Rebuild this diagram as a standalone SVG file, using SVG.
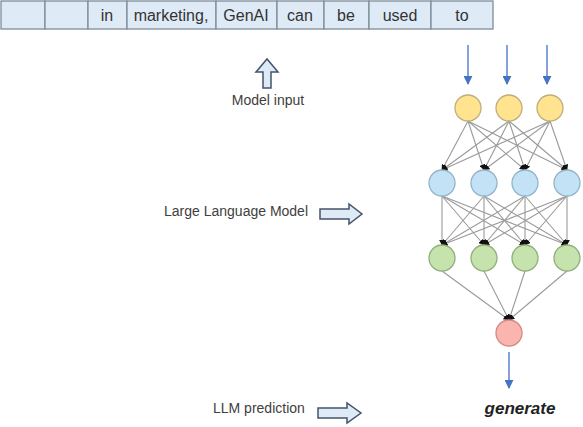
<svg xmlns="http://www.w3.org/2000/svg" width="583" height="427" viewBox="0 0 583 427">
<defs>
<marker id="blk" viewBox="0 0 10 10" refX="9" refY="5" markerWidth="6" markerHeight="6" orient="auto" markerUnits="userSpaceOnUse">
<path d="M0,0 L10,5 L0,10 z" fill="#111"/>
</marker>
<marker id="blu" viewBox="0 0 10 10" refX="9" refY="5" markerWidth="9" markerHeight="9" orient="auto" markerUnits="userSpaceOnUse">
<path d="M0,0 L10,5 L0,10 z" fill="#4472c4"/>
</marker>
<style>
.cell{fill:#deebf7;stroke:#7f8c99;stroke-width:1.3}
.tok{font-family:"Liberation Sans",Arial,sans-serif;font-size:16px;fill:#333;text-anchor:middle}
.lbl{font-family:"Liberation Sans",Arial,sans-serif;font-size:14px;fill:#404040}
.blk{fill:#deebf7;stroke:#44546a;stroke-width:1.5;stroke-linejoin:miter}
.c{stroke:#9a9a9a;stroke-width:1.1;fill:none;marker-end:url(#blk)}
.in{stroke:#4472c4;stroke-width:1.3;fill:none;marker-end:url(#blu)}
.y{fill:#ffe38f;stroke:#bfae7a;stroke-width:1.3}
.b{fill:#c4e2f6;stroke:#92b4c8;stroke-width:1.3}
.g{fill:#c6e2ad;stroke:#8fb07c;stroke-width:1.3}
.r{fill:#f9b5ae;stroke:#d08a84;stroke-width:1.3}
</style>
</defs>
<rect width="583" height="427" fill="#fff"/>
<g id="tokens">
<rect class="cell" x="1" y="1" width="44" height="28"/>
<rect class="cell" x="45" y="1" width="43" height="28"/>
<rect class="cell" x="88" y="1" width="39" height="28"/>
<rect class="cell" x="127" y="1" width="89" height="28"/>
<rect class="cell" x="216" y="1" width="61" height="28"/>
<rect class="cell" x="277" y="1" width="47" height="28"/>
<rect class="cell" x="324" y="1" width="45" height="28"/>
<rect class="cell" x="369" y="1" width="62" height="28"/>
<rect class="cell" x="431" y="1" width="62" height="28"/>
<text class="tok" x="107" y="21">in</text>
<text class="tok" x="171" y="21">marketing,</text>
<text class="tok" x="246" y="21">GenAI</text>
<text class="tok" x="300" y="21">can</text>
<text class="tok" x="346" y="21">be</text>
<text class="tok" x="400" y="21">used</text>
<text class="tok" x="462" y="21">to</text>
</g>
<g id="model-input">
<path class="blk" d="M263,88 L271,88 L271,72 L278,72 L267,59 L256,72 L263,72 Z"/>
<text class="lbl" x="268" y="105" text-anchor="middle">Model input</text>
</g>
<g id="llm-label">
<text class="lbl" x="164" y="216">Large Language Model</text>
<path class="blk" d="M320,209 L349,209 L349,204 L362,214 L349,224 L349,219 L320,219 Z"/>
</g>
<g id="prediction-label">
<text class="lbl" x="213" y="413">LLM prediction</text>
<path class="blk" d="M318,408 L347,408 L347,403 L361,413 L347,423 L347,418 L318,418 Z"/>
</g>
<g id="connectors">
<line class="in" x1="468" y1="45" x2="468" y2="84"/>
<line class="in" x1="507" y1="45" x2="507" y2="84"/>
<line class="in" x1="547" y1="45" x2="547" y2="84"/>
<line class="in" x1="509" y1="352" x2="509" y2="388"/>
<line class="c" x1="468" y1="121" x2="442" y2="170"/>
<line class="c" x1="468" y1="121" x2="484" y2="170"/>
<line class="c" x1="468" y1="121" x2="525" y2="170"/>
<line class="c" x1="468" y1="121" x2="567" y2="170"/>
<line class="c" x1="509" y1="121" x2="442" y2="170"/>
<line class="c" x1="509" y1="121" x2="484" y2="170"/>
<line class="c" x1="509" y1="121" x2="525" y2="170"/>
<line class="c" x1="509" y1="121" x2="567" y2="170"/>
<line class="c" x1="550" y1="121" x2="442" y2="170"/>
<line class="c" x1="550" y1="121" x2="484" y2="170"/>
<line class="c" x1="550" y1="121" x2="525" y2="170"/>
<line class="c" x1="550" y1="121" x2="567" y2="170"/>
<line class="c" x1="442" y1="196" x2="442" y2="245"/>
<line class="c" x1="442" y1="196" x2="484" y2="245"/>
<line class="c" x1="442" y1="196" x2="525" y2="245"/>
<line class="c" x1="442" y1="196" x2="567" y2="245"/>
<line class="c" x1="484" y1="196" x2="442" y2="245"/>
<line class="c" x1="484" y1="196" x2="484" y2="245"/>
<line class="c" x1="484" y1="196" x2="525" y2="245"/>
<line class="c" x1="484" y1="196" x2="567" y2="245"/>
<line class="c" x1="525" y1="196" x2="442" y2="245"/>
<line class="c" x1="525" y1="196" x2="484" y2="245"/>
<line class="c" x1="525" y1="196" x2="525" y2="245"/>
<line class="c" x1="525" y1="196" x2="567" y2="245"/>
<line class="c" x1="567" y1="196" x2="442" y2="245"/>
<line class="c" x1="567" y1="196" x2="484" y2="245"/>
<line class="c" x1="567" y1="196" x2="525" y2="245"/>
<line class="c" x1="567" y1="196" x2="567" y2="245"/>
<line class="c" x1="442" y1="271" x2="509" y2="320"/>
<line class="c" x1="484" y1="271" x2="509" y2="320"/>
<line class="c" x1="525" y1="271" x2="509" y2="320"/>
<line class="c" x1="567" y1="271" x2="509" y2="320"/>
</g>
<g id="input-layer">
<circle class="y" cx="468" cy="108" r="13"/>
<circle class="y" cx="509" cy="108" r="13"/>
<circle class="y" cx="550" cy="108" r="13"/>
</g>
<g id="hidden-layer-1">
<circle class="b" cx="442" cy="183" r="13"/>
<circle class="b" cx="484" cy="183" r="13"/>
<circle class="b" cx="525" cy="183" r="13"/>
<circle class="b" cx="567" cy="183" r="13"/>
</g>
<g id="hidden-layer-2">
<circle class="g" cx="442" cy="258" r="13"/>
<circle class="g" cx="484" cy="258" r="13"/>
<circle class="g" cx="525" cy="258" r="13"/>
<circle class="g" cx="567" cy="258" r="13"/>
</g>
<g id="output-node">
<circle class="r" cx="509" cy="333" r="13"/>
</g>
<g id="prediction">
<text x="520" y="414" text-anchor="middle" font-family="Liberation Sans, Arial, sans-serif" font-size="17" font-weight="bold" font-style="italic" fill="#222">generate</text>
</g>
</svg>
